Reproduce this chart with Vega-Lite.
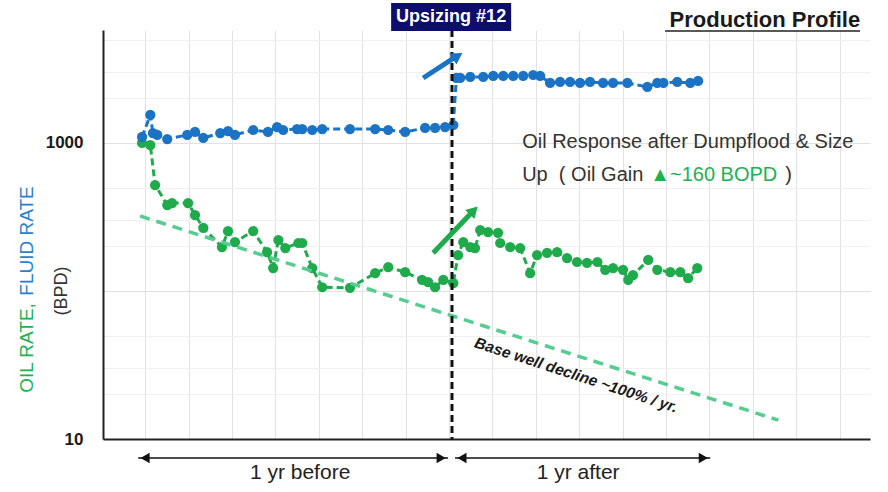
{
  "$schema": "https://vega.github.io/schema/vega-lite/v6.json",
  "width": 767,
  "height": 409,
  "autosize": {"type": "none"},
  "padding": {"left": 103, "top": 30, "right": 18, "bottom": 53},
  "background": "white",
  "config": {"view": {"stroke": null}, "font": "Liberation Sans"},
  "layer": [
    {
      "data": {"values": [
        {"t": -0.07, "v": 1000}, {"t": 0.12, "v": 969}, {"t": 0.23, "v": 520}, {"t": 0.51, "v": 381},
        {"t": 0.62, "v": 393}, {"t": 0.99, "v": 393}, {"t": 1.15, "v": 326}, {"t": 1.34, "v": 267},
        {"t": 1.77, "v": 198}, {"t": 1.91, "v": 254}, {"t": 2.07, "v": 214}, {"t": 2.49, "v": 254},
        {"t": 2.81, "v": 183}, {"t": 2.95, "v": 143}, {"t": 3.07, "v": 221}, {"t": 3.23, "v": 195},
        {"t": 3.53, "v": 211}, {"t": 3.62, "v": 211}, {"t": 3.85, "v": 143}, {"t": 4.08, "v": 106},
        {"t": 4.72, "v": 105}, {"t": 5.30, "v": 132}, {"t": 5.60, "v": 145}, {"t": 5.99, "v": 134},
        {"t": 6.38, "v": 119}, {"t": 6.52, "v": 115}, {"t": 6.68, "v": 106}, {"t": 6.87, "v": 119},
        {"t": 7.10, "v": 113}, {"t": 7.21, "v": 175}, {"t": 7.33, "v": 214}, {"t": 7.49, "v": 198},
        {"t": 7.60, "v": 195}, {"t": 7.72, "v": 258}, {"t": 7.90, "v": 250}, {"t": 8.13, "v": 247},
        {"t": 8.18, "v": 211}, {"t": 8.41, "v": 198}, {"t": 8.64, "v": 195}, {"t": 8.87, "v": 132},
        {"t": 9.03, "v": 175}, {"t": 9.26, "v": 181}, {"t": 9.49, "v": 183}, {"t": 9.72, "v": 167},
        {"t": 9.95, "v": 157}, {"t": 10.18, "v": 155}, {"t": 10.42, "v": 157}, {"t": 10.60, "v": 139},
        {"t": 10.78, "v": 143}, {"t": 11.01, "v": 139}, {"t": 11.13, "v": 119}, {"t": 11.24, "v": 128},
        {"t": 11.59, "v": 162}, {"t": 11.80, "v": 139}, {"t": 12.10, "v": 134}, {"t": 12.33, "v": 134},
        {"t": 12.51, "v": 122}, {"t": 12.72, "v": 143}
      ]},
      "mark": {"type": "line", "color": "#1fab4c", "strokeWidth": 3, "strokeDash": [7, 4], "point": {"filled": true, "size": 105, "color": "#1fab4c"}, "clip": false},
      "encoding": {
        "x": {"field": "t", "type": "quantitative", "sort": null, "title": null,
          "scale": {"domain": [-0.97, 16.7], "nice": false, "zero": false},
          "axis": {"title": null, "values": [0,1,2,3,4,5,6,7,8,9,10,11,12,13,14,15,16], "labels": false, "ticks": false,
            "domainColor": "#222222", "domainWidth": 2, "gridColor": "#e2e2e2", "gridWidth": 1}},
        "y": {"field": "v", "type": "quantitative", "title": null,
          "scale": {"type": "log", "domain": [10, 5800], "nice": false},
          "axis": {"title": null, "values": [10,20,30,50,100,200,300,500,1000,2000,3000,5000],
            "labelExpr": "datum.value == 10 || datum.value == 1000 ? format(datum.value, 'd') : ''",
            "labelFontSize": 17, "labelFontWeight": "bold", "labelColor": "#1a1a1a", "labelPadding": 20, "ticks": false,
            "domainColor": "#222222", "domainWidth": 2,
            "gridColor": {"condition": {"test": "datum.value == 10 || datum.value == 100 || datum.value == 1000", "value": "#e2e2e2"}, "value": "#f0f0f0"}}},
        "order": {"field": "t", "type": "quantitative"}
      }
    },
    {
      "data": {"values": [
        {"t": -0.07, "v": 1098}, {"t": 0.12, "v": 1546}, {"t": 0.18, "v": 1168}, {"t": 0.28, "v": 1133},
        {"t": 0.51, "v": 1064}, {"t": 0.97, "v": 1133}, {"t": 1.15, "v": 1187}, {"t": 1.34, "v": 1081},
        {"t": 1.73, "v": 1168}, {"t": 1.91, "v": 1205}, {"t": 2.07, "v": 1133}, {"t": 2.49, "v": 1224},
        {"t": 2.83, "v": 1187}, {"t": 3.04, "v": 1282}, {"t": 3.18, "v": 1224}, {"t": 3.50, "v": 1243},
        {"t": 3.62, "v": 1243}, {"t": 3.85, "v": 1224}, {"t": 4.08, "v": 1243}, {"t": 4.72, "v": 1243},
        {"t": 5.30, "v": 1243}, {"t": 5.60, "v": 1224}, {"t": 5.99, "v": 1187}, {"t": 6.45, "v": 1263},
        {"t": 6.68, "v": 1263}, {"t": 6.91, "v": 1282}, {"t": 7.10, "v": 1323}, {"t": 7.17, "v": 2749},
        {"t": 7.26, "v": 2749}, {"t": 7.49, "v": 2792}, {"t": 7.79, "v": 2792}, {"t": 8.02, "v": 2836},
        {"t": 8.25, "v": 2836}, {"t": 8.48, "v": 2836}, {"t": 8.71, "v": 2836}, {"t": 8.94, "v": 2880},
        {"t": 9.10, "v": 2836}, {"t": 9.33, "v": 2544}, {"t": 9.56, "v": 2584}, {"t": 9.79, "v": 2584},
        {"t": 10.02, "v": 2544}, {"t": 10.25, "v": 2584}, {"t": 10.55, "v": 2544}, {"t": 10.78, "v": 2544},
        {"t": 11.11, "v": 2544}, {"t": 11.57, "v": 2390}, {"t": 11.80, "v": 2544}, {"t": 11.94, "v": 2544},
        {"t": 12.26, "v": 2584}, {"t": 12.56, "v": 2544}, {"t": 12.74, "v": 2624}
      ]},
      "mark": {"type": "line", "color": "#1a73c4", "strokeWidth": 3, "strokeDash": [7, 4], "point": {"filled": true, "size": 105, "color": "#1a73c4"}, "clip": false},
      "encoding": {
        "x": {"field": "t", "type": "quantitative", "title": null},
        "y": {"field": "v", "type": "quantitative", "title": null},
        "order": {"field": "t", "type": "quantitative"}
      }
    },
    {
      "data": {"values": [{"t": -0.115, "v": 321}, {"t": 14.59, "v": 13.4}]},
      "mark": {"type": "line", "color": "#55cc90", "strokeWidth": 3.5, "strokeDash": [10, 7], "clip": false},
      "encoding": {
        "x": {"field": "t", "type": "quantitative", "title": null},
        "y": {"field": "v", "type": "quantitative", "title": null}
      }
    },
    {
      "data": {"values": [{}]},
      "mark": {"type": "rule", "color": "#111111", "strokeWidth": 3, "strokeDash": [7, 4]},
      "encoding": {"x": {"datum": 7.07, "type": "quantitative", "title": null}}
    },
    {
      "data": {"values": [{}]},
      "mark": {"type": "rect", "color": "#0d0d6b", "clip": false},
      "encoding": {
        "x": {"datum": 5.668, "type": "quantitative", "title": null}, "x2": {"datum": 8.433},
        "y": {"datum": 8831, "type": "quantitative", "title": null}, "y2": {"datum": 5715}
      }
    },
    {
      "data": {"values": [{}]},
      "mark": {"type": "text", "text": "Upsizing #12", "color": "white", "fontWeight": "bold", "fontSize": 18, "align": "center", "baseline": "middle", "clip": false},
      "encoding": {
        "x": {"datum": 7.05, "type": "quantitative", "title": null},
        "y": {"datum": 7096, "type": "quantitative", "title": null}
      }
    },
    {
      "data": {"values": [{}]},
      "mark": {"type": "text", "text": "Production Profile", "color": "#1a1a1a", "fontWeight": "bold", "fontSize": 22, "align": "right", "baseline": "alphabetic", "clip": false},
      "encoding": {
        "x": {"datum": 16.475, "type": "quantitative", "title": null},
        "y": {"datum": 6083, "type": "quantitative", "title": null}
      }
    },
    {
      "data": {"values": [{}]},
      "mark": {"type": "rule", "color": "#222222", "strokeWidth": 1.5, "clip": false},
      "encoding": {
        "x": {"datum": 11.98, "type": "quantitative", "title": null}, "x2": {"datum": 16.47},
        "y": {"datum": 5700, "type": "quantitative", "title": null}
      }
    },
    {
      "data": {"values": [{}]},
      "mark": {"type": "rule", "color": "#1a73c4", "strokeWidth": 5, "clip": false},
      "encoding": {
        "x": {"datum": 6.406, "type": "quantitative", "title": null}, "x2": {"datum": 7.189},
        "y": {"datum": 2749, "type": "quantitative", "title": null}, "y2": {"datum": 3873}
      }
    },
    {
      "data": {"values": [{}]},
      "mark": {"type": "point", "shape": "triangle-up", "filled": true, "color": "#1a73c4", "size": 170, "angle": 57, "opacity": 1, "clip": false},
      "encoding": {
        "x": {"datum": 7.2, "type": "quantitative", "title": null},
        "y": {"datum": 3873, "type": "quantitative", "title": null}
      }
    },
    {
      "data": {"values": [{}]},
      "mark": {"type": "rule", "color": "#1fab4c", "strokeWidth": 5, "clip": false},
      "encoding": {
        "x": {"datum": 6.636, "type": "quantitative", "title": null}, "x2": {"datum": 7.558},
        "y": {"datum": 180.7, "type": "quantitative", "title": null}, "y2": {"datum": 347}
      }
    },
    {
      "data": {"values": [{}]},
      "mark": {"type": "point", "shape": "triangle-up", "filled": true, "color": "#1fab4c", "size": 170, "angle": 44, "opacity": 1, "clip": false},
      "encoding": {
        "x": {"datum": 7.57, "type": "quantitative", "title": null},
        "y": {"datum": 350, "type": "quantitative", "title": null}
      }
    },
    {
      "data": {"values": [{}]},
      "mark": {"type": "text", "text": "Oil Response after Dumpflood & Size", "color": "#333333", "fontSize": 20, "align": "left", "baseline": "alphabetic", "clip": false},
      "encoding": {
        "x": {"datum": 8.687, "type": "quantitative", "title": null},
        "y": {"datum": 925, "type": "quantitative", "title": null}
      }
    },
    {
      "data": {"values": [{}]},
      "mark": {"type": "text", "text": "Up\u00a0\u00a0( Oil Gain\u00a0", "color": "#333333", "fontSize": 20, "align": "left", "baseline": "alphabetic", "clip": false},
      "encoding": {
        "x": {"datum": 8.687, "type": "quantitative", "title": null},
        "y": {"datum": 553, "type": "quantitative", "title": null}
      }
    },
    {
      "data": {"values": [{}]},
      "mark": {"type": "text", "text": "▲~160 BOPD", "color": "#22b050", "fontSize": 20, "align": "left", "baseline": "alphabetic", "clip": false},
      "encoding": {
        "x": {"datum": 11.636, "type": "quantitative", "title": null},
        "y": {"datum": 553, "type": "quantitative", "title": null}
      }
    },
    {
      "data": {"values": [{}]},
      "mark": {"type": "text", "text": ")", "color": "#333333", "fontSize": 20, "align": "left", "baseline": "alphabetic", "clip": false},
      "encoding": {
        "x": {"datum": 14.75, "type": "quantitative", "title": null},
        "y": {"datum": 553, "type": "quantitative", "title": null}
      }
    },
    {
      "data": {"values": [{}]},
      "mark": {"type": "text", "text": "Base well decline ~100% / yr.", "color": "#1a1a1a", "fontSize": 15.5, "fontWeight": "bold", "fontStyle": "italic", "angle": 18, "align": "center", "baseline": "middle", "clip": false},
      "encoding": {
        "x": {"datum": 9.93, "type": "quantitative", "title": null},
        "y": {"datum": 27, "type": "quantitative", "title": null}
      }
    },
    {
      "data": {"values": [{}]},
      "mark": {"type": "text", "text": "OIL RATE,", "color": "#22b050", "fontSize": 19, "angle": 270, "align": "left", "baseline": "middle", "clip": false},
      "encoding": {
        "x": {"datum": -2.719, "type": "quantitative", "title": null},
        "y": {"datum": 20.5, "type": "quantitative", "title": null}
      }
    },
    {
      "data": {"values": [{}]},
      "mark": {"type": "text", "text": "FLUID RATE", "color": "#2a7fcf", "fontSize": 19, "angle": 270, "align": "left", "baseline": "middle", "clip": false},
      "encoding": {
        "x": {"datum": -2.719, "type": "quantitative", "title": null},
        "y": {"datum": 93, "type": "quantitative", "title": null}
      }
    },
    {
      "data": {"values": [{}]},
      "mark": {"type": "text", "text": "(BPD)", "color": "#333333", "fontSize": 18, "angle": 270, "align": "center", "baseline": "middle", "clip": false},
      "encoding": {
        "x": {"datum": -1.912, "type": "quantitative", "title": null},
        "y": {"datum": 100, "type": "quantitative", "title": null}
      }
    },
    {
      "data": {"values": [{}]},
      "mark": {"type": "rule", "color": "#111111", "strokeWidth": 1.5, "clip": false},
      "encoding": {
        "x": {"datum": -0.16, "type": "quantitative", "title": null}, "x2": {"datum": 6.98},
        "y": {"datum": 7.44, "type": "quantitative", "title": null}
      }
    },
    {
      "data": {"values": [{}]},
      "mark": {"type": "rule", "color": "#111111", "strokeWidth": 1.5, "clip": false},
      "encoding": {
        "x": {"datum": 7.14, "type": "quantitative", "title": null}, "x2": {"datum": 13.02},
        "y": {"datum": 7.44, "type": "quantitative", "title": null}
      }
    },
    {
      "data": {"values": [{}]},
      "mark": {"type": "point", "shape": "triangle-left", "filled": true, "color": "#111111", "size": 110, "opacity": 1, "clip": false},
      "encoding": {
        "x": {"datum": 0.0, "type": "quantitative", "title": null},
        "y": {"datum": 7.44, "type": "quantitative", "title": null}
      }
    },
    {
      "data": {"values": [{}]},
      "mark": {"type": "point", "shape": "triangle-right", "filled": true, "color": "#111111", "size": 110, "opacity": 1, "clip": false},
      "encoding": {
        "x": {"datum": 6.82, "type": "quantitative", "title": null},
        "y": {"datum": 7.44, "type": "quantitative", "title": null}
      }
    },
    {
      "data": {"values": [{}]},
      "mark": {"type": "point", "shape": "triangle-left", "filled": true, "color": "#111111", "size": 110, "opacity": 1, "clip": false},
      "encoding": {
        "x": {"datum": 7.30, "type": "quantitative", "title": null},
        "y": {"datum": 7.44, "type": "quantitative", "title": null}
      }
    },
    {
      "data": {"values": [{}]},
      "mark": {"type": "point", "shape": "triangle-right", "filled": true, "color": "#111111", "size": 110, "opacity": 1, "clip": false},
      "encoding": {
        "x": {"datum": 12.86, "type": "quantitative", "title": null},
        "y": {"datum": 7.44, "type": "quantitative", "title": null}
      }
    },
    {
      "data": {"values": [{}]},
      "mark": {"type": "text", "text": "1 yr before", "color": "#222222", "fontSize": 21, "align": "center", "baseline": "middle", "clip": false},
      "encoding": {
        "x": {"datum": 3.571, "type": "quantitative", "title": null},
        "y": {"datum": 5.89, "type": "quantitative", "title": null}
      }
    },
    {
      "data": {"values": [{}]},
      "mark": {"type": "text", "text": "1 yr after", "color": "#222222", "fontSize": 21, "align": "center", "baseline": "middle", "clip": false},
      "encoding": {
        "x": {"datum": 9.977, "type": "quantitative", "title": null},
        "y": {"datum": 5.89, "type": "quantitative", "title": null}
      }
    }
  ]
}
